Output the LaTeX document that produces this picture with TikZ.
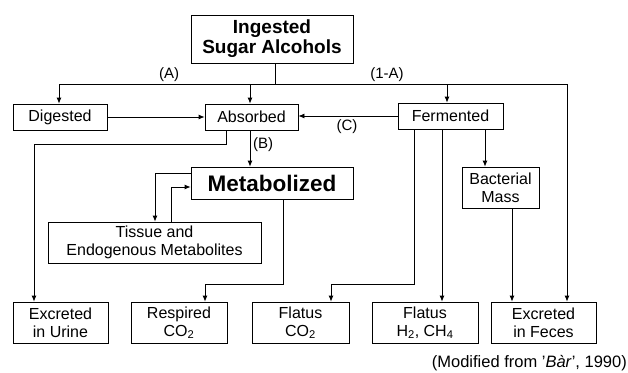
\documentclass[tikz,border=0pt]{standalone}
\usepackage{fontspec}
\setmainfont{Liberation Sans}
\usetikzlibrary{arrows.meta}
\begin{document}
\begin{tikzpicture}[x=1pt,y=-1pt,
  box/.style={draw,line width=0.8pt,inner sep=0pt,align=center,font=\fontsize{16}{18}\selectfont},
  arr/.style={line width=0.8pt,-{Latex[length=6pt,width=5pt]}},
  ln/.style={line width=0.8pt},
  lab/.style={font=\fontsize{15}{17}\selectfont,inner sep=1pt}]
\useasboundingbox (0,0) rectangle (628,372);
% nodes
\node[box,minimum width=162pt,minimum height=48pt,font=\bfseries\fontsize{19}{20}\selectfont] (top) at (272,39) {Ingested\\Sugar Alcohols};
\node[box,minimum width=94pt,minimum height=26pt] (dig) at (60,117) {Digested};
\node[box,minimum width=93pt,minimum height=26pt] (abs) at (251.5,117) {Absorbed};
\node[box,minimum width=105pt,minimum height=26pt] (fer) at (450.5,116) {Fermented};
\node[box,minimum width=162pt,minimum height=32pt,font=\bfseries\fontsize{22.5}{24}\selectfont] (met) at (272,183) {Metabolized};
\node[box,minimum width=213pt,minimum height=41pt] (tis) at (154.5,242.5) {Tissue and\\Endogenous Metabolites};
\node[box,minimum width=77pt,minimum height=41pt] (bac) at (500.5,187.5) {Bacterial\\Mass};
\node[box,minimum width=95pt,minimum height=41pt] (uri) at (60.5,322.5) {Excreted\\in Urine};
\node[box,minimum width=96pt,minimum height=41pt] (res) at (179,322.5) {Respired\\CO\textsubscript{2}};
\node[box,minimum width=97pt,minimum height=41pt] (fco) at (300.5,322.5) {Flatus\\CO\textsubscript{2}};
\node[box,minimum width=106pt,minimum height=41pt] (fh) at (425,322.5) {Flatus\\H\textsubscript{2}, CH\textsubscript{4}};
\node[box,minimum width=105pt,minimum height=41pt] (fec) at (543.5,322.5) {Excreted\\in Feces};
% branch
\coordinate (b1) at (59,84);
\coordinate (b2) at (250,84);
\coordinate (b3) at (447,84);
\coordinate (b4) at (567,84);
\draw[ln] (275,0 |- top.south) -- (275,84);
\draw[ln] (b1) -- (b4);
\draw[arr] (b1) -- (b1 |- dig.north);
\draw[arr] (b2) -- (b2 |- abs.north);
\draw[arr] (b3) -- (b3 |- fer.north);
\draw[arr] (b4) -- (b4 |- fec.north);
\node[lab] (la) at (169,75) {(A)};
\node[lab] (l1a) at (387,75) {(1-A)};
% horizontal arrows
\draw[arr] (dig.east) -- (abs.west);
\draw[arr] (fer.west) -- (fer.west -| abs.east);
\node[lab] (lc) at (347,127) {(C)};
% absorbed down
\draw[arr] (226,0 |- abs.south) -- (226,144) -- (34,144) -- (34,0 |- uri.north);
\draw[arr] (250,0 |- abs.south) -- (250,0 |- met.north);
\node[lab] (lb) at (263,145) {(B)};
% tissue loop
\draw[arr] (met.west |- 0,173) -- (155,173) -- (155,0 |- tis.north);
\draw[arr] (171,0 |- tis.north) -- (171,187) -- (met.west |- 0,187);
% respired
\draw[arr] (283,0 |- met.south) -- (283,284) -- (205,284) -- (205,0 |- res.north);
% fermented outputs
\draw[arr] (414,0 |- fer.south) -- (414,284) -- (331,284) -- (331,0 |- fco.north);
\draw[arr] (442,0 |- fer.south) -- (442,0 |- fh.north);
\draw[arr] (485,0 |- fer.south) -- (485,0 |- bac.north);
\draw[arr] (512,0 |- bac.south) -- (512,0 |- fec.north);
% caption
\node[anchor=east,inner sep=0pt,font=\fontsize{16.5}{18}\selectfont] (cap) at (627,363) {(Modified from '\textit{Bàr}', 1990)};
\end{tikzpicture}
\end{document}
